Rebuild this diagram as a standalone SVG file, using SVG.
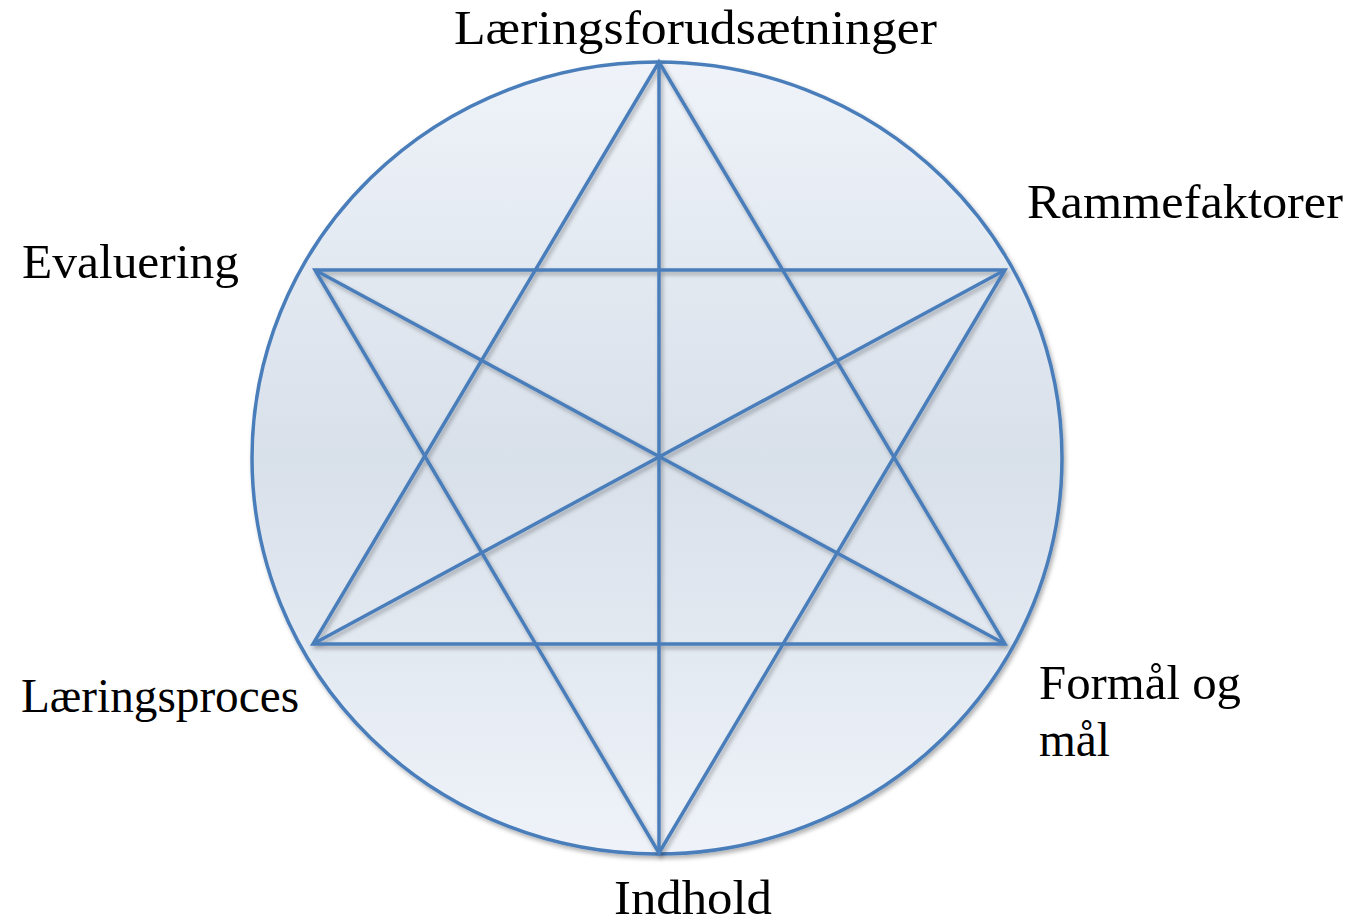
<svg xmlns="http://www.w3.org/2000/svg" width="1357" height="922" viewBox="0 0 1357 922">
<style>
.lbl{font-family:"Liberation Serif","Times New Roman",serif;font-size:48px;fill:#000}
.ln{stroke:#4a7ebb;stroke-width:3.5;fill:none;stroke-linejoin:miter}
</style>
<defs>
<linearGradient id="bg" x1="0" y1="0" x2="0" y2="1">
<stop offset="0" stop-color="#eff3f9"/>
<stop offset="0.5" stop-color="#d8e0ea"/>
<stop offset="1" stop-color="#eff3f9"/>
</linearGradient>
<filter id="sh" x="-10%" y="-10%" width="120%" height="120%">
<feDropShadow dx="2" dy="3" stdDeviation="2" flood-color="#000" flood-opacity="0.3"/>
</filter>
</defs>
<g id="circle">
<ellipse cx="657" cy="458" rx="405" ry="396" fill="url(#bg)" stroke="#4a7ebb" stroke-width="3.5" filter="url(#sh)"/>
</g>
<g id="connectors" filter="url(#sh)">
<polygon class="ln" points="659,62 313,644 1005,644"/>
<polygon class="ln" points="315,270 1005,270 659,853"/>
<line class="ln" x1="659" y1="62" x2="659" y2="853"/>
<line class="ln" x1="315" y1="270" x2="1005" y2="644"/>
<line class="ln" x1="1005" y1="270" x2="313" y2="644"/>
</g>
<g id="node-laeringsforudsaetninger"><text class="lbl" x="454" y="44" textLength="483" lengthAdjust="spacingAndGlyphs">Læringsforudsætninger</text></g>
<g id="node-rammefaktorer"><text class="lbl" x="1027" y="218" textLength="316" lengthAdjust="spacingAndGlyphs">Rammefaktorer</text></g>
<g id="node-evaluering"><text class="lbl" x="22" y="278" textLength="217" lengthAdjust="spacingAndGlyphs">Evaluering</text></g>
<g id="node-laeringsproces"><text class="lbl" x="21" y="712" textLength="278" lengthAdjust="spacingAndGlyphs">Læringsproces</text></g>
<g id="node-formaal"><text class="lbl" x="1039" y="699" textLength="202" lengthAdjust="spacingAndGlyphs">Formål og</text><text class="lbl" x="1039" y="756" textLength="71" lengthAdjust="spacingAndGlyphs">mål</text></g>
<g id="node-indhold"><text class="lbl" x="614" y="914" textLength="158" lengthAdjust="spacingAndGlyphs">Indhold</text></g>
</svg>
